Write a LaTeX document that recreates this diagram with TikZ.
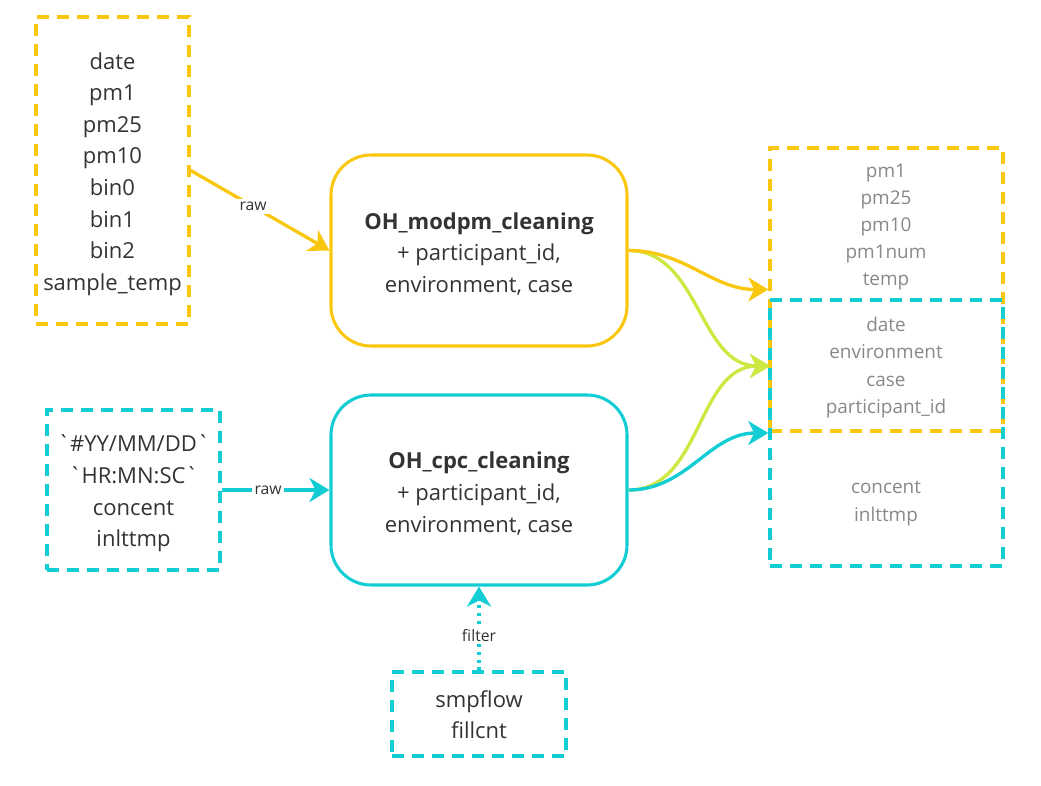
\documentclass[tikz,border=0pt]{standalone}
\usepackage{fontspec}
\setmainfont{Open Sans}[Ligatures=TeXOff]
\usetikzlibrary{arrows.meta,calc}
\definecolor{myyellow}{HTML}{FAC710}
\definecolor{mycyan}{HTML}{12CDD4}
\definecolor{mylime}{HTML}{CEE741}
\definecolor{mydark}{HTML}{333333}
\definecolor{mygray}{HTML}{888888}
\tikzset{
  dbox/.style={draw, line width=2.6pt, dash pattern=on 9pt off 6pt, inner sep=0pt},
  rbox/.style={draw, line width=2.3pt, rounded corners=30pt, inner sep=0pt},
  dtext/.style={align=center, text=mydark, inner sep=0pt, yshift=-2.6pt, font=\fontsize{16.5}{23.7}\selectfont},
  gtext/.style={align=center, text=mygray, inner sep=0pt, font=\fontsize{14.2}{20.4}\selectfont},
  bigtip/.style={-{Stealth[length=15pt,width=18pt,inset=4.5pt]}},
  conn/.style={line width=2.5pt, bigtip},
  lbl/.style={fill=white, text=mydark, inner sep=2pt, font=\fontsize{11.8}{13}\selectfont},
}
\begin{document}
\begin{tikzpicture}[x=0.75pt,y=-0.75pt]
\useasboundingbox (0,0) rectangle (1041,785);
% right boxes
\node[dbox, draw=myyellow, minimum width={233*0.75pt}, minimum height={283*0.75pt}] (ry) at (886.5,289.5) {};
\node[dbox, draw=mycyan, minimum width={233*0.75pt}, minimum height={266*0.75pt}] (rc) at (886.5,433) {};
\node[gtext] (g1) at (886,227) {pm1\\pm25\\pm10\\pm1num\\temp};
\node[gtext] (g2) at (886,367.5) {date\\environment\\case\\participant\_id};
\node[gtext] (g3) at (886,503.5) {concent\\inlttmp};
% left boxes
\node[dbox, draw=myyellow, minimum width={153*0.75pt}, minimum height={307*0.75pt}] (tl) at (112.5,170.5) {};
\node[dtext] (tlt) at (tl.center) {date\\pm1\\pm25\\pm10\\bin0\\bin1\\bin2\\sample\_temp};
\node[dbox, draw=mycyan, minimum width={173*0.75pt}, minimum height={160*0.75pt}] (cl) at (133.5,490) {};
\node[dtext] (clt) at (cl.center) {`\#YY/MM/DD`\\`HR:MN:SC`\\concent\\inlttmp};
\node[dbox, draw=mycyan, minimum width={174*0.75pt}, minimum height={84*0.75pt}] (bt) at (479,714) {};
\node[dtext, yshift=2.2pt] (btt) at (bt.center) {smpflow\\fillcnt};
% process boxes
\node[rbox, draw=myyellow, minimum width={296*0.75pt}, minimum height={191*0.75pt}] (yb) at (479,250.5) {};
\node[dtext] (ybt) at (yb.center) {\textbf{OH\_modpm\_cleaning}\\+ participant\_id,\\environment, case};
\node[rbox, draw=mycyan, minimum width={296*0.75pt}, minimum height={190*0.75pt}] (cb) at (479,490) {};
\node[dtext] (cbt) at (cb.center) {\textbf{OH\_cpc\_cleaning}\\+ participant\_id,\\environment, case};
% connectors
\coordinate (lin) at (770,366);
\draw[conn, myyellow] (tl.east) -- node[lbl, pos=0.45] {raw} (yb.west);
\draw[conn, mycyan] (cl.east) -- node[lbl, pos=0.43] {raw} (cb.west);
\draw[line width=2.4pt, mycyan, dash pattern=on 2.2pt off 3.6pt, bigtip] (bt.north) -- node[lbl, pos=0.42] {filter} (cb.south);
\draw[conn, mylime] (yb.east) to[out=0,in=180] (lin);
\draw[conn, mylime] (cb.east) to[out=0,in=180] (lin);
\draw[conn, myyellow] (yb.east) to[out=0,in=180] (ry.west);
\draw[conn, mycyan] (cb.east) to[out=0,in=180] (rc.west);
\end{tikzpicture}
\end{document}
